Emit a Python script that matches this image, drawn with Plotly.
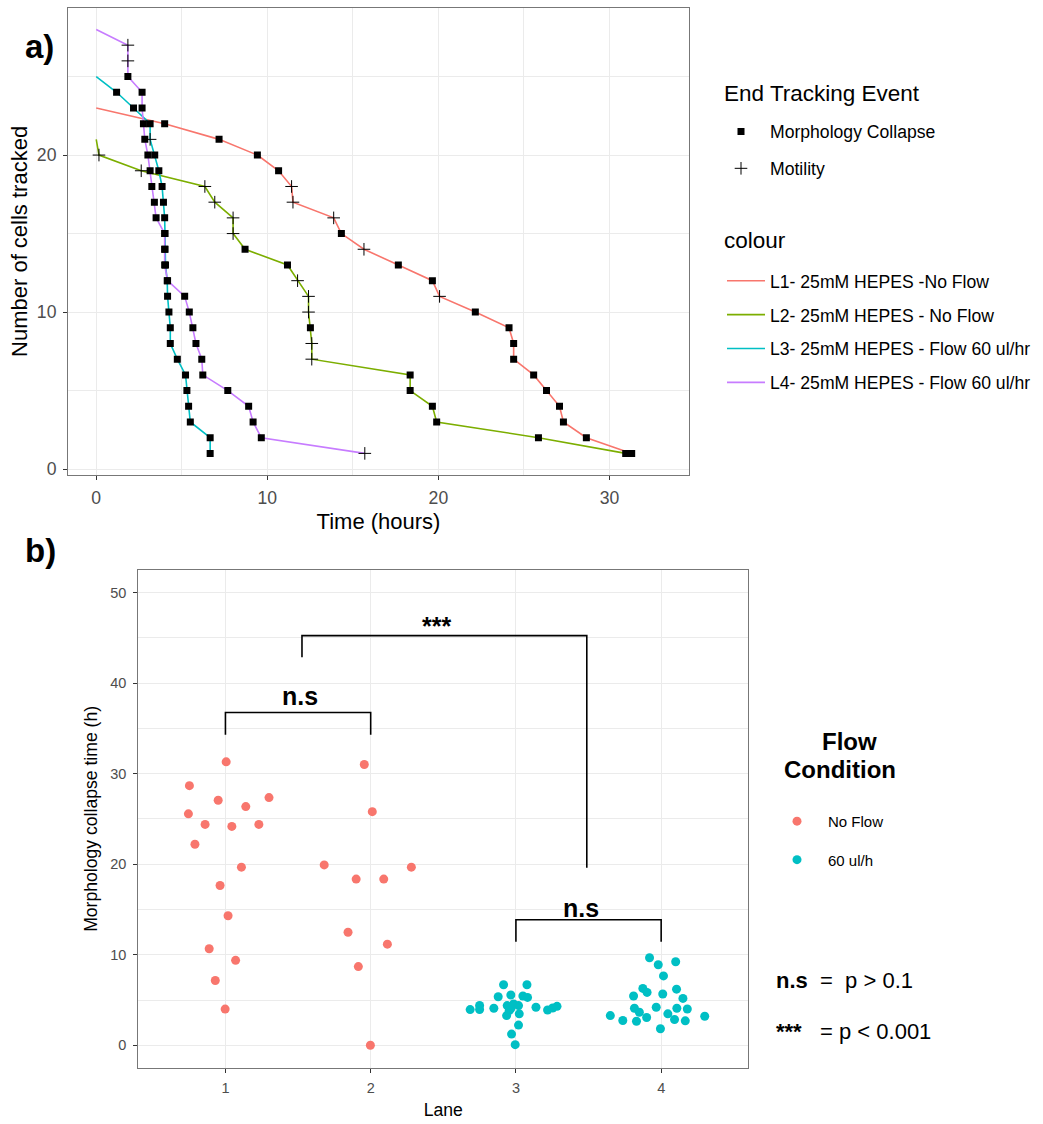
import plotly.graph_objects as go

# ---------------- Panel a data ----------------
L1_time = [0, 4.0, 7.18, 9.42, 10.66, 11.42, 11.5, 13.88, 14.33, 15.65, 17.66, 19.65, 20.07,
           22.16, 24.13, 24.4, 24.4, 25.57, 26.32, 27.08, 27.31, 28.65, 31.3]
L1_cells = [23, 22, 21, 20, 19, 18, 17, 16, 15, 14, 13, 12, 11, 10, 9, 8, 7, 6, 5, 4, 3, 2, 1]
L1_event = ["", "M", "M", "M", "M", "T", "T", "T", "M", "T", "M", "M", "T",
            "M", "M", "M", "M", "M", "M", "M", "M", "M", "M"]

L2_time = [0, 0.16, 2.63, 6.35, 6.93, 8.0, 8.0, 8.7, 11.18, 11.77, 12.41, 12.41, 12.52,
           12.6, 12.6, 18.35, 18.35, 19.65, 19.9, 25.85, 30.95]
L2_cells = [21, 20, 19, 18, 17, 16, 15, 14, 13, 12, 11, 10, 9, 8, 7, 6, 5, 4, 3, 2, 1]
L2_event = ["", "T", "T", "T", "T", "T", "T", "M", "M", "T", "T", "T", "M",
            "T", "T", "M", "M", "M", "M", "M", "M"]

L3_time = [0, 1.19, 2.18, 3.15, 3.15, 3.42, 3.66, 3.85, 3.93, 4.0, 4.02, 4.02, 4.05, 4.15,
           4.17, 4.25, 4.33, 4.33, 4.74, 5.22, 5.3, 5.4, 5.5, 6.66, 6.66]
L3_cells = [25, 24, 23, 22, 21, 20, 19, 18, 17, 16, 15, 14, 13, 12, 11, 10, 9, 8, 7, 6, 5, 4, 3, 2, 1]
L3_event = ["", "M", "M", "M", "T", "M", "M", "M", "M", "M", "M", "M", "M", "M",
            "M", "M", "M", "M", "M", "M", "M", "M", "M", "M", "M"]

L4_time = [0, 1.85, 1.85, 1.85, 2.68, 2.68, 2.76, 2.84, 3.02, 3.15, 3.25, 3.4, 3.5, 4.0,
           4.0, 4.0, 4.17, 5.17, 5.44, 5.65, 5.83, 6.17, 6.23, 7.69, 8.91, 9.17, 9.65, 15.7]
L4_cells = [28, 27, 26, 25, 24, 23, 22, 21, 20, 19, 18, 17, 16, 15, 14, 13, 12, 11, 10, 9,
            8, 7, 6, 5, 4, 3, 2, 1]
L4_event = ["", "T", "T", "M", "M", "M", "M", "M", "M", "M", "M", "M", "M", "M",
            "M", "M", "M", "M", "M", "M", "M", "M", "M", "M", "M", "M", "M", "T"]

lane_names = ["L1- 25mM HEPES -No Flow", "L2- 25mM HEPES - No Flow",
              "L3- 25mM HEPES - Flow 60 ul/hr", "L4- 25mM HEPES - Flow 60 ul/hr"]
lane_colors = ["#F8766D", "#7CAE00", "#00BFC4", "#C77CFF"]
event_names = {"M": "Morphology Collapse", "T": "Motility"}

# ---------------- Panel b data ----------------
lane1_x = [1.005, 0.752, 0.95, 1.30, 1.14, 0.745, 0.86, 1.044, 1.23, 0.79, 1.11, 0.963,
           1.018, 0.888, 1.07, 0.93, 0.998]
lane1_y = [31.3, 28.67, 27.06, 27.35, 26.36, 25.56, 24.39, 24.17, 24.39, 22.2, 19.67, 17.65,
           14.3, 10.66, 9.38, 7.15, 4.0]
lane2_x = [1.956, 2.011, 1.68, 1.90, 2.09, 2.28, 1.844, 2.115, 1.915, 1.998]
lane2_y = [31.0, 25.8, 19.92, 18.35, 18.35, 19.67, 12.48, 11.17, 8.69, 0.0]
lane3_x = [2.685, 2.75, 2.75, 2.848, 2.878, 2.915, 3.076, 2.965, 3.048, 3.08, 2.94, 2.984,
           3.018, 2.954, 2.936, 3.023, 2.965, 3.138, 3.218, 3.253, 3.283, 3.018, 2.97, 2.995]
lane3_y = [3.94, 4.40, 3.95, 4.09, 5.36, 6.68, 6.68, 5.55, 5.44, 5.29, 4.38, 4.56,
           4.38, 3.83, 3.28, 3.47, 4.05, 4.2, 3.9, 4.12, 4.3, 2.23, 1.24, 0.07]
lane4_x = [3.92, 3.98, 4.10, 4.016, 3.874, 3.903, 3.81, 4.011, 4.106, 4.15, 3.966, 3.816,
           3.85, 4.108, 4.18, 3.65, 3.736, 3.83, 3.90, 4.046, 4.092, 4.166, 4.30, 3.995]
lane4_y = [9.67, 8.9, 9.23, 7.66, 6.28, 5.84, 5.44, 5.66, 6.2, 5.18, 4.2, 4.09,
           3.65, 4.09, 4.01, 3.28, 2.74, 2.66, 3.07, 3.47, 2.85, 2.7, 3.21, 1.82]

# significance brackets
bracket_x0 = [1.0, 1.527, 3.0]
bracket_x1 = [2.0, 3.488, 4.0]
bracket_top = [36.75, 45.24, 13.87]
bracket_end0 = [34.3, 42.86, 11.43]
bracket_end1 = [34.3, 19.6, 11.43]
bracket_label = ["n.s", "***", "n.s"]
bracket_label_x = [1.51, 2.45, 3.45]
bracket_label_y = [38.55, 46.35, 15.15]

FONT = "Liberation Sans, Arial, sans-serif"
GRID = "#EBEBEB"
BORDER = "#777777"
TICKTXT = "#4D4D4D"
W, H = 1043, 1124

fig = go.Figure()

times = [L1_time, L2_time, L3_time, L4_time]
cells = [L1_cells, L2_cells, L3_cells, L4_cells]
events = [L1_event, L2_event, L3_event, L4_event]

for name, t, c, col in zip(lane_names, times, cells, lane_colors):
    fig.add_trace(go.Scatter(x=t, y=c, mode="lines", name=name,
                             line=dict(color=col, width=1.6),
                             legend="legend2", legendgroup=name,
                             xaxis="x", yaxis="y", hoverinfo="skip"))

for code, sym, size in [("M", "square", 7), ("T", "cross-thin", 9)]:
    xs, ys = [], []
    for t, c, e in zip(times, cells, events):
        for ti, ci, ei in zip(t, c, e):
            if ei == code:
                xs.append(ti)
                ys.append(ci)
    fig.add_trace(go.Scatter(x=xs, y=ys, mode="markers", name=event_names[code],
                             marker=dict(symbol=sym, size=size, color="black",
                                         line=dict(color="black", width=1.0 if code == "T" else 0)),
                             legend="legend", legendgroup=event_names[code],
                             xaxis="x", yaxis="y", hoverinfo="skip"))

fig.add_trace(go.Scatter(x=lane1_x + lane2_x, y=lane1_y + lane2_y, mode="markers",
                         name="No Flow", marker=dict(color="#F8766D", size=9),
                         legend="legend3", legendgroup="nf", xaxis="x2", yaxis="y2"))
fig.add_trace(go.Scatter(x=lane3_x + lane4_x, y=lane3_y + lane4_y, mode="markers",
                         name="60 ul/h", marker=dict(color="#00BFC4", size=9),
                         legend="legend3", legendgroup="f60", xaxis="x2", yaxis="y2"))

shapes = []
annotations = []
for x0, x1, yt, e0, e1, lab, lx, ly in zip(bracket_x0, bracket_x1, bracket_top, bracket_end0,
                                            bracket_end1, bracket_label, bracket_label_x,
                                            bracket_label_y):
    shapes.append(dict(type="path", xref="x2", yref="y2",
                       path=f"M {x0},{e0} L {x0},{yt} L {x1},{yt} L {x1},{e1}",
                       line=dict(color="black", width=1.6)))
    annotations.append(dict(text=f"<b>{lab}</b>", x=lx, y=ly, xref="x2", yref="y2",
                            showarrow=False, font=dict(family=FONT, size=25, color="black"),
                            xanchor="center", yanchor="middle"))


def paper_text(text, px, py, size, anchor="left", bold=False):
    return dict(text=f"<b>{text}</b>" if bold else text, x=px / W, y=1 - py / H,
                xref="paper", yref="paper", showarrow=False,
                font=dict(family=FONT, size=size, color="black"),
                xanchor=anchor, yanchor="middle")


annotations += [
    paper_text("a)", 39, 47, 33, "center", True),
    paper_text("b)", 40, 553, 33, "center", True),
    paper_text("<b>n.s</b>  =  p &gt; 0.1", 774, 985, 22),
    paper_text("<b>***</b>   = p &lt; 0.001", 774, 1036, 22),
    # legend titles
    paper_text("End Tracking Event", 722, 94, 22.5),
    paper_text("colour", 722, 242, 22.5),
    paper_text("Flow", 849, 745, 24, "center", True),
    paper_text("Condition", 840, 773, 24, "center", True),
]


def axis_common(**kw):
    d = dict(showgrid=True, gridcolor=GRID, gridwidth=1.1, zeroline=False,
             showline=True, mirror=True, linecolor=BORDER, linewidth=1.1,
             ticks="outside", ticklen=4, tickwidth=1.1, tickcolor="#333333",
             tickfont=dict(family=FONT, color=TICKTXT))
    d.update(kw)
    return d


MINOR = dict(tickmode="linear", tick0=0, dtick=5, showgrid=True,
             gridcolor=GRID, gridwidth=0.6, ticks="")

fig.update_layout(
    width=W, height=H, margin=dict(l=0, r=0, t=0, b=0),
    paper_bgcolor="white", plot_bgcolor="white",
    font=dict(family=FONT, color="black"),
    showlegend=True,
    xaxis=axis_common(domain=[68 / W, 689 / W], range=[-1.65, 34.65], anchor="y",
                      tickmode="array", tickvals=[0, 10, 20, 30], minor=MINOR,
                      ticklabelstandoff=3,
                      tickfont=dict(family=FONT, size=17.6, color=TICKTXT),
                      title=dict(text="Time (hours)", font=dict(family=FONT, size=22), standoff=6)),
    yaxis=axis_common(domain=[1 - 476.7 / H, 1 - 8.3 / H], range=[-0.35, 29.35], anchor="x",
                      tickmode="array", tickvals=[0, 10, 20], minor=MINOR,
                      ticklabelstandoff=3,
                      tickfont=dict(family=FONT, size=17.6, color=TICKTXT),
                      title=dict(text="Number of cells tracked", font=dict(family=FONT, size=22),
                                 standoff=3)),
    xaxis2=axis_common(domain=[138.3 / W, 748.3 / W], range=[0.4, 4.6], anchor="y2",
                       tickmode="array", tickvals=[1, 2, 3, 4], ticklabelstandoff=3,
                       tickfont=dict(family=FONT, size=14.5, color=TICKTXT),
                       title=dict(text="Lane", font=dict(family=FONT, size=17.6), standoff=8)),
    yaxis2=axis_common(domain=[1 - 1072.7 / H, 1 - 572.4 / H], range=[-2.5, 52.5], anchor="x2",
                       tickmode="array", tickvals=[0, 10, 20, 30, 40, 50], minor=MINOR,
                       ticklabelstandoff=4,
                       tickfont=dict(family=FONT, size=14.5, color=TICKTXT),
                       title=dict(text="Morphology collapse time (h)",
                                  font=dict(family=FONT, size=17.6), standoff=8)),
    legend=dict(x=712 / W, y=1 - 114 / H, xanchor="left", yanchor="top",
                font=dict(family=FONT, size=17.6, color="black"), itemwidth=48,
                tracegroupgap=11, bgcolor="rgba(0,0,0,0)"),
    legend2=dict(x=722 / W, y=1 - 264 / H, xanchor="left", yanchor="top",
                 font=dict(family=FONT, size=17.6, color="black"), itemwidth=38,
                 tracegroupgap=8, bgcolor="rgba(0,0,0,0)"),
    legend3=dict(x=766 / W, y=1 - 808.5 / H, xanchor="left", yanchor="top",
                 font=dict(family=FONT, size=15, color="black"), itemwidth=52,
                 tracegroupgap=16, bgcolor="rgba(0,0,0,0)"),
    shapes=shapes,
    annotations=annotations,
)

fig.write_html("out.html")
